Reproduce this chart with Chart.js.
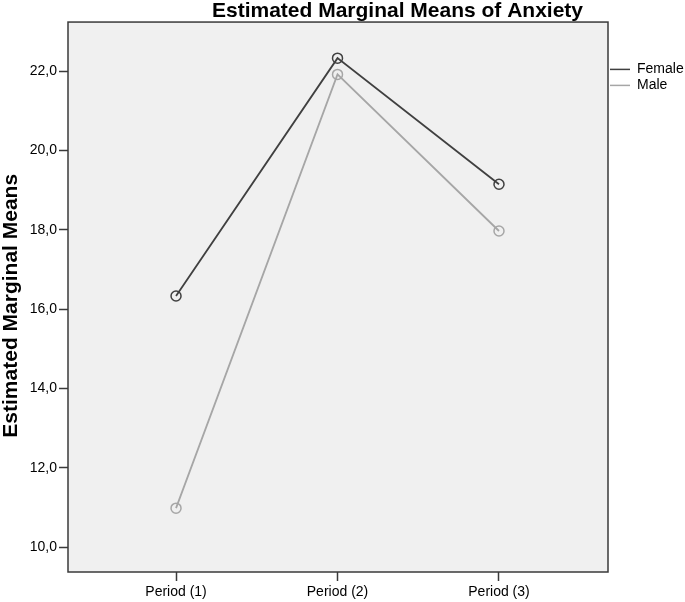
<!DOCTYPE html>
<html lang="en">
<head>
    <meta charset="UTF-8">
    <title>Estimated Marginal Means of Anxiety</title>
    <script src="https://cdn.jsdelivr.net/npm/chart.js"></script>
    <style>
        body {
            margin: 0;
            background-color: #FFFFFF;
        }
        #chartContainer {
            width: 685px;
            height: 602px;
        }
    </style>
</head>
<body>
    <div id="chartContainer">
        <canvas id="meansChart" width="685" height="602"></canvas>
    </div>

    <script>
        // valores
        const periods = ['Period (1)', 'Period (2)', 'Period (3)'];
        const femaleMeans = [16.33, 22.33, 19.15];
        const maleMeans = [10.98, 21.92, 17.97];
        const yTicks = [10, 12, 14, 16, 18, 20, 22];

        const toPoints = arr => arr.map((v, i) => ({ x: i + 1, y: v }));
        const fmt = v => v.toFixed(1).replace('.', ',');
        const FONT = 'Liberation Sans, Arial, sans-serif';

        // fundo cinza e moldura da área do gráfico
        const plotFrame = {
            id: 'plotFrame',
            beforeDatasetsDraw(chart) {
                const { ctx, chartArea: a } = chart;
                ctx.save();
                ctx.fillStyle = '#F0F0F0';
                ctx.fillRect(a.left, a.top, a.right - a.left, a.bottom - a.top);
                ctx.restore();
            },
            afterDatasetsDraw(chart) {
                const { ctx, chartArea: a } = chart;
                ctx.save();
                ctx.strokeStyle = '#3A3A3A';
                ctx.lineWidth = 1.5;
                ctx.strokeRect(a.left, a.top, a.right - a.left, a.bottom - a.top);
                ctx.restore();
            },
            afterLayout(chart) {
                // título deslocado para a direita como no original
                if (chart.titleBlock) {
                    chart.titleBlock.left += 55;
                    chart.titleBlock.right += 55;
                }
            }
        };

        const ctx = document.getElementById('meansChart').getContext('2d');
        const chart = new Chart(ctx, {
            type: 'line',
            data: {
                datasets: [{
                    label: 'Female',
                    data: toPoints(femaleMeans),
                    borderColor: '#404040',
                    backgroundColor: 'transparent',
                    borderWidth: 1.8,
                    pointRadius: 5,
                    pointBorderWidth: 1.5,
                    pointBackgroundColor: 'transparent',
                    pointBorderColor: '#404040'
                }, {
                    label: 'Male',
                    data: toPoints(maleMeans),
                    borderColor: '#A6A6A6',
                    backgroundColor: 'transparent',
                    borderWidth: 1.8,
                    pointRadius: 5,
                    pointBorderWidth: 1.5,
                    pointBackgroundColor: 'transparent',
                    pointBorderColor: '#A6A6A6'
                }]
            },
            options: {
                responsive: false,
                animation: false,
                events: [],
                layout: { padding: 0 },
                plugins: {
                    title: {
                        display: true,
                        text: 'Estimated Marginal Means of Anxiety',
                        color: '#000000',
                        font: { family: FONT, size: 21, weight: 'bold', lineHeight: 1.05 },
                        padding: { top: 0, bottom: 0 }
                    },
                    legend: {
                        position: 'right',
                        align: 'start',
                        maxWidth: 77,
                        title: {
                            display: true,
                            text: '',
                            font: { size: 12 },
                            padding: { top: 46, bottom: 0 }
                        },
                        labels: {
                            usePointStyle: true,
                            pointStyle: 'line',
                            pointStyleWidth: 20,
                            padding: 2,
                            color: '#000000',
                            font: { family: FONT, size: 14 }
                        }
                    },
                    tooltip: { enabled: false }
                },
                scales: {
                    x: {
                        type: 'linear',
                        min: 0.331,
                        max: 3.675,
                        afterBuildTicks: s => { s.ticks = periods.map((p, i) => ({ value: i + 1 })); },
                        afterFit: s => { s.height = 30; },
                        ticks: {
                            callback: v => periods[v - 1],
                            color: '#000000',
                            padding: 3,
                            font: { family: FONT, size: 14 }
                        },
                        grid: {
                            drawOnChartArea: false,
                            drawTicks: true,
                            tickLength: 9,
                            tickWidth: 1.5,
                            tickColor: '#3A3A3A'
                        },
                        border: { display: false }
                    },
                    y: {
                        min: 9.37,
                        max: 23.24,
                        afterBuildTicks: s => { s.ticks = yTicks.map(v => ({ value: v })); },
                        afterFit: s => { s.width = 68; },
                        title: {
                            display: true,
                            // espaços finais empurram o texto um pouco para baixo
                            text: 'Estimated Marginal Means   ',
                            color: '#000000',
                            font: { family: FONT, size: 21, weight: 'bold', lineHeight: 1.1 },
                            padding: { top: 0, bottom: 0 }
                        },
                        ticks: {
                            callback: v => fmt(v),
                            color: '#000000',
                            padding: 2,
                            font: { family: FONT, size: 14 }
                        },
                        grid: {
                            drawOnChartArea: false,
                            drawTicks: true,
                            tickLength: 9,
                            tickWidth: 1.5,
                            tickColor: '#3A3A3A'
                        },
                        border: { display: false }
                    }
                }
            },
            plugins: [plotFrame]
        });
    </script>
</body>
</html>
